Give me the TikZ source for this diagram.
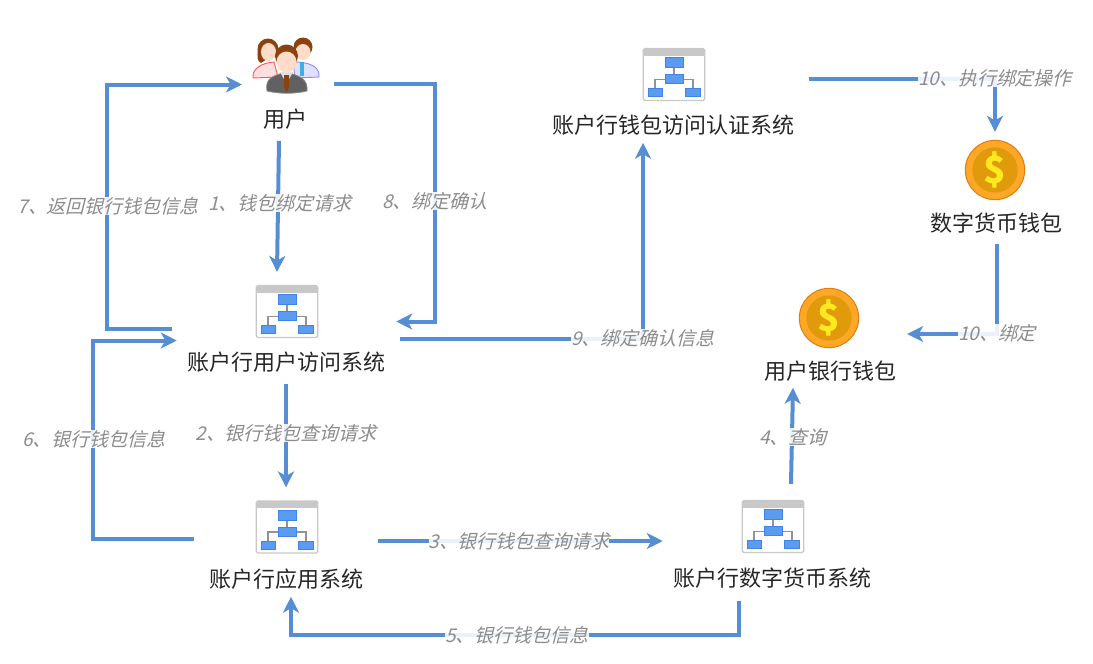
\documentclass[tikz,border=0pt]{standalone}
\usepackage{fontspec}
\setmainfont{Noto Sans CJK SC}
\newfontfamily\slantfont[FakeSlant=0.25]{Noto Sans CJK SC}
\usetikzlibrary{arrows.meta,calc,shapes.geometric}
\definecolor{wireblue}{HTML}{558ED5}
\definecolor{boxblue}{HTML}{5B9BF0}
\definecolor{boxedge}{HTML}{3D85E8}
\definecolor{framegray}{HTML}{C8C8C8}
\definecolor{hairbrown}{HTML}{8A4310}
\definecolor{skin}{HTML}{FFDCC8}
\definecolor{coinrim}{HTML}{FFA726}
\definecolor{coinedge}{HTML}{E07F10}
\definecolor{coinface}{HTML}{E09A0C}
\definecolor{coinsign}{HTML}{FFE81F}
\tikzset{
  x=0.75pt,y=-0.75pt,
  flow/.style={draw=wireblue,line width=3pt,-{Stealth[length=12pt,width=12pt,inset=3.5pt]}},
  sysname/.style={font=\fontsize{16.5pt}{18pt}\selectfont,text=black!85,inner sep=0pt,minimum height=31.5pt},
  flowlabel/.style={font=\slantfont\fontsize{14.2pt}{16pt}\selectfont,text=black!45,fill=white,fill opacity=0.88,text opacity=1,inner sep=0pt},
  coin/.style={circle,draw=coinedge,line width=0.8pt,fill=coinrim,minimum size=44.5pt,inner sep=0pt},
  coincore/.style={circle,fill=coinface,minimum size=34pt,inner sep=0pt,text=coinsign,font=\bfseries\fontsize{28pt}{28pt}\selectfont},
  minibox/.style={fill=boxblue,draw=boxedge,line width=0.4pt},
  sysicon/.pic={
    \node[draw=framegray,fill=white,line width=0.9pt,rounded corners=1pt,minimum width=46pt,minimum height=39pt,inner sep=0pt] (frame) at (0,0) {};
    \fill[framegray] (-30.5,-26) rectangle (30.5,-19);
    \draw[gray!85,line width=1.4pt] (0,-7) -- (0,0) (-19,14) -- (-19,5) -- (19,5) -- (19,14);
    \path[minibox] (-9,-17) rectangle (9,-7);
    \path[minibox] (-9,0) rectangle (9,9);
    \path[minibox] (-26,14) rectangle (-12,22);
    \path[minibox] (11,14) rectangle (26,22);
  },
  crowd/.pic={
    % woman on the left
    \path[fill=red!13,draw=red!65,line width=0.7pt] (-32,11) .. controls (-33,2) and (-24,-4) .. (-11,-5) -- (-7,10) -- cycle;
    \fill[hairbrown] (-17,-18) circle [radius=10.5];
    \fill[hairbrown] (-27,-18) .. controls (-28,-10) and (-28,-6) .. (-24,-4) -- (-18,-8) -- cycle;
    \fill[skin] (-16.5,-15) ellipse [x radius=7.5,y radius=9];
    % man on the right
    \path[fill=blue!12,draw=blue!45,line width=0.7pt] (8,-5) .. controls (24,-5) and (35,-1) .. (34,10) -- (10,11) -- cycle;
    \fill[wireblue!70!cyan] (15,-5) -- (19,-5) -- (19,9) -- (15,9) -- cycle;
    \fill[hairbrown] (18,-20) circle [radius=9.5];
    \fill[skin] (18,-15) ellipse [x radius=7.5,y radius=8];
    % man in the middle
    \path[fill=black!62,draw=black!45,line width=0.6pt] (-18,24) .. controls (-20,13) and (-14,9) .. (-2,6) -- (4,6) .. controls (16,9) and (23,13) .. (22,24) .. controls (10,27) and (-6,27) .. (-18,24) -- cycle;
    \fill[white!88!black] (-5,5) -- (8,5) -- (3,14) -- (0,14) -- cycle;
    \fill[hairbrown] (-1,8) -- (4,8) -- (4,20) -- (1.5,26) -- (-1,20) -- cycle;
    \fill[hairbrown] (1.5,-11) circle [radius=11.5];
    \fill[skin] (1.5,-5) ellipse [x radius=10,y radius=10.5];
  },
}
\begin{document}
\begin{tikzpicture}
  \useasboundingbox (0,0) rectangle (1093,664);
  % systems
  \pic (access) at (287,311.5) {sysicon};
  \pic (app) at (287,527) {sysicon};
  \pic (digital) at (773,526.5) {sysicon};
  \pic (auth) at (674,74.5) {sysicon};
  \pic (user) at (285,67) {crowd};
  \node[coin] (walletcoin) at (995,170) {};
  \node[coincore] (walletcore) at (walletcoin) {\$};
  \node[coin] (bankcoin) at (829,318) {};
  \node[coincore] (bankcore) at (bankcoin) {\$};
  % names
  \node[sysname] (username) at (285,119.5) {用户};
  \node[sysname] (accessname) at (286,362.5) {账户行用户访问系统};
  \node[sysname] (appname) at (286,579.5) {账户行应用系统};
  \node[sysname] (digitalname) at (772,578.5) {账户行数字货币系统};
  \node[sysname] (authname) at (673,125.5) {账户行钱包访问认证系统};
  \node[sysname] (walletname) at (996,223.5) {数字货币钱包};
  \node[sysname] (bankname) at (830,371.5) {用户银行钱包};
  \coordinate (userin) at (242,84.5);
  \coordinate (userout) at (334,83.5);
  % wires
  \draw[flow] ([xshift=-4.5pt]username.south) -- ([shift={(-10,-13)}]accessframe.north);
  \draw[flow] (accessname.south) -- ([shift={(-1,-13)}]appframe.north);
  \draw[flow] ([shift={(60,14)}]appframe.east) -- ([shift={(-79,14.5)}]digitalframe.west);
  \draw[flow] ([shift={(18,-16)}]digitalframe.north) -- ([shift={(-37,-5)}]bankname.south);
  \draw[flow] ([shift={(-33,1)}]digitalname.south) -- ++(0,34) -| ([shift={(5,-4)}]appname.south);
  \draw[flow] ([shift={(-62,12)}]appframe.west) -- ++(-101,0) |- ([shift={(-79,29)}]accessframe.west);
  \draw[flow] ([shift={(-84,17)}]accessframe.west) -- ++(-65,0) |- (userin);
  \draw[flow] (userout) -- ++(101,0) |- ([shift={(78,10)}]accessframe.east);
  \draw[flow] ([shift={(82,27)}]accessframe.east) -| ([shift={(-30,-4)}]authname.south);
  \draw[flow] ([shift={(104,4)}]authframe.east) -| ([yshift=6pt]walletcoin.north);
  \draw[flow] ([shift={(1,-1)}]walletname.south) |- ([shift={(48,16)}]bankcoin.east);
  % labels
  \node[flowlabel] (step1) at (280,203) {1、钱包绑定请求};
  \node[flowlabel] (step2) at (286,433) {2、银行钱包查询请求};
  \node[flowlabel] (step3) at (519,541) {3、银行钱包查询请求};
  \node[flowlabel] (step4) at (793,437) {4、查询};
  \node[flowlabel] (step5) at (517,635) {5、银行钱包信息};
  \node[flowlabel] (step6) at (94,439) {6、银行钱包信息};
  \node[flowlabel] (step7) at (108,206) {7、返回银行钱包信息};
  \node[flowlabel] (step8) at (435,201) {8、绑定确认};
  \node[flowlabel] (step9) at (643,338) {9、绑定确认信息};
  \node[flowlabel] (step10a) at (995,78) {10、执行绑定操作};
  \node[flowlabel] (step10b) at (997,333) {10、绑定};
\end{tikzpicture}
\end{document}
